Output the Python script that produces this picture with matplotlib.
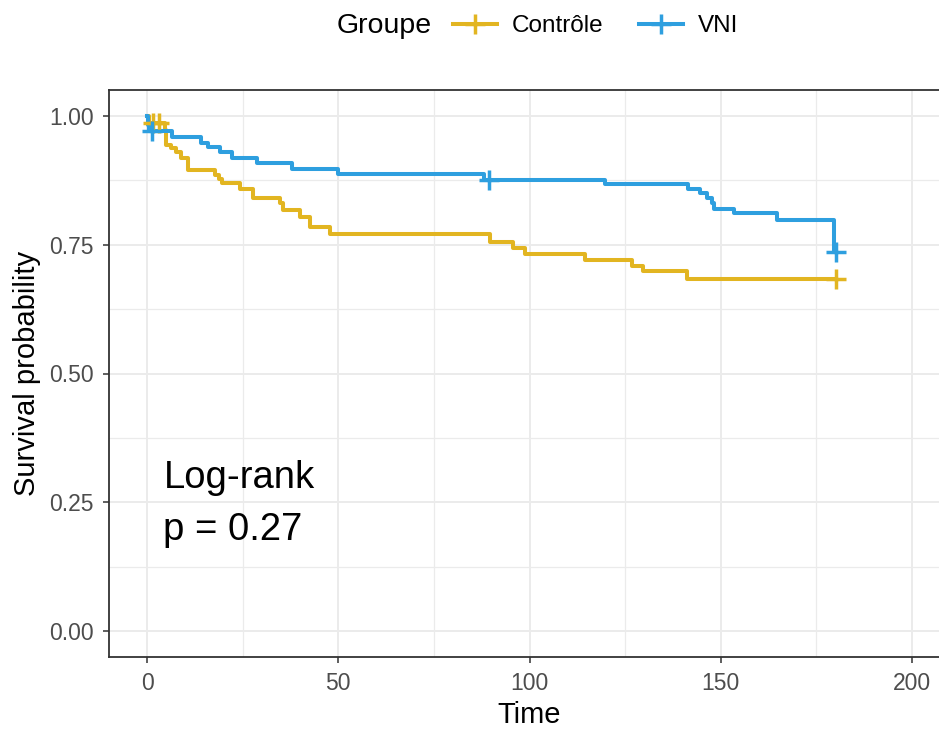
import numpy as np
import matplotlib
matplotlib.use("Agg")
import matplotlib.pyplot as plt
from matplotlib.lines import Line2D
from matplotlib.ticker import MultipleLocator

plt.rcParams['font.family'] = ['Liberation Sans', 'DejaVu Sans']

# Kaplan-Meier step data
groups = ["Contrôle", "VNI"]
colors = ["#E2B521", "#2E9FDF"]

ctrl_time = [0, 0.5, 4.6, 5.0, 6.4, 7.7, 9.0, 10.7, 17.7, 18.9, 19.6, 24.3, 27.8,
             34.8, 35.6, 40.0, 42.5, 47.8, 89.7, 95.8, 98.8, 114.5, 126.7, 129.8,
             141.1, 180]
ctrl_surv = [1.0, 0.986, 0.972, 0.944, 0.937, 0.930, 0.918, 0.895, 0.886, 0.877,
             0.869, 0.858, 0.841, 0.830, 0.817, 0.803, 0.784, 0.770, 0.756, 0.743,
             0.731, 0.720, 0.709, 0.698, 0.684, 0.684]
ctrl_censor = [1.5, 3.2, 180]

vni_time = [0, 0.3, 0.6, 6.5, 14.2, 16.0, 19.0, 22.1, 28.7, 37.8, 50.0, 88.0,
            119.7, 141.5, 144.6, 146.5, 147.6, 148.2, 153.5, 164.8, 179.5, 180]
vni_surv = [1.0, 0.983, 0.970, 0.959, 0.947, 0.940, 0.929, 0.918, 0.908, 0.897,
            0.888, 0.876, 0.868, 0.858, 0.850, 0.841, 0.830, 0.819, 0.812, 0.797,
            0.735, 0.735]
vni_censor = [1.2, 89.5, 180]

xticks = [0, 50, 100, 150, 200]
yticks = [0.0, 0.25, 0.5, 0.75, 1.0]
ytick_labels = ["0.00", "0.25", "0.50", "0.75", "1.00"]

W, H = 939, 729
fig = plt.figure(figsize=(W / 100, H / 100), dpi=100)
ax = fig.add_axes([108.75 / W, 72 / H, 841.5 / W, 567 / H])

series = [(ctrl_time, ctrl_surv, ctrl_censor), (vni_time, vni_surv, vni_censor)]
for (t, s, c), col in zip(series, colors):
    ax.step(t, s, where='post', color=col, lw=2.9, zorder=3)
    idx = np.searchsorted(t, c, side='right') - 1
    cy = np.array(s)[idx]
    ax.plot(c, cy, ls='none', marker='+', ms=15, mew=2.5, color=col, zorder=4)

ax.set_xlim(-10, 210)
ax.set_ylim(-0.05, 1.05)
ax.set_xticks(xticks)
ax.set_yticks(yticks)
ax.set_yticklabels(ytick_labels)
ax.xaxis.set_minor_locator(MultipleLocator(25))
ax.yaxis.set_minor_locator(MultipleLocator(0.125))
ax.grid(True, which='major', color='#EBEBEB', lw=1.4, zorder=0)
ax.grid(True, which='minor', color='#EBEBEB', lw=0.9, zorder=0)
ax.set_axisbelow(True)
ax.tick_params(which='major', length=4, width=1.1, color='#333333',
               labelsize=16.5, labelcolor='#4D4D4D', pad=7)
ax.tick_params(which='minor', length=0)
for sp in ax.spines.values():
    sp.set_color('#333333')
    sp.set_linewidth(1.3)

ax.set_xlabel("Time", fontsize=21, labelpad=4)
ax.set_ylabel("Survival probability", fontsize=21, labelpad=6)

ax.text(4.3, 0.277, "Log-rank", fontsize=27.5, va='baseline', ha='left')
ax.text(4.3, 0.177, "p = 0.27", fontsize=27.5, va='baseline', ha='left')

# legend on top, title on the left side
fig.text(337 / W, 1 - 26 / H, "Groupe", fontsize=20.5, va='center', ha='left')
handles = [Line2D([], [], color=c, lw=2.9, marker='+', ms=15, mew=2.5) for c in colors]
fig.legend(handles, groups, loc='center left', bbox_to_anchor=(453 / W, 1 - 26 / H),
           ncol=2, frameon=False, fontsize=17.5, handlelength=1.8, handletextpad=0.6,
           columnspacing=1.5, borderpad=0, borderaxespad=0)

fig.savefig("out.png", dpi=100)
